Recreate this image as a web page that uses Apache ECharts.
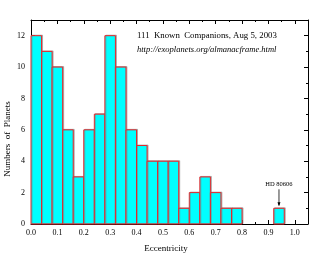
<!DOCTYPE html>
<html>
<head>
<meta charset="utf-8">
<script src="https://cdn.jsdelivr.net/npm/echarts@6/dist/echarts.min.js"></script>
<style>html,body{margin:0;padding:0;background:#fff;}#c{width:327px;height:254px;}</style>
</head>
<body>
<div id="c"></div>
<script>
// Histogram bins (eccentricity start of each 0.04-wide bin) and counts
const binStarts = [0.00,0.04,0.08,0.12,0.16,0.20,0.24,0.28,0.32,0.36,0.40,0.44,0.48,0.52,0.56,0.60,0.64,0.68,0.72,0.76,0.92];
const counts    = [12,11,10,6,3,6,7,12,10,6,5,4,4,4,1,2,3,2,1,1,1];
const binWidth = 0.04;
const titleText = '111  Known  Companions, Aug 5, 2003';
const urlText = 'http://exoplanets.org/almanacframe.html';
const annotText = 'HD 80606';
const annotX = 0.94, annotY = 1;

const FONT = 'Liberation Serif';
const chart = echarts.init(document.getElementById('c'), null, {renderer:'canvas'});
const data = binStarts.map((s,i)=>[s, s+binWidth, counts[i]]);
const axisCommon = {
  axisLine:{show:true,onZero:false,lineStyle:{color:'#000',width:1}},
  axisTick:{show:true,inside:true,length:4,lineStyle:{color:'#000'}},
  minorTick:{show:true,splitNumber:2,length:2,lineStyle:{color:'#000'}},
  splitLine:{show:false}
};
chart.setOption({
  animation:false,
  grid:{left:31,right:19,top:20,bottom:30},
  xAxis:[
    Object.assign({type:'value',min:0,max:1.05,interval:0.1,position:'bottom',
      axisLabel:{fontFamily:FONT,fontSize:8,color:'#000',margin:5,
        formatter:v=>{const r=Math.round(v*10)/10; return Math.abs(r-v)<1e-6 && v<=1.0001 ? r.toFixed(1):'';}}
    },axisCommon),
    Object.assign({type:'value',min:0,max:1.05,interval:0.1,position:'top',axisLabel:{show:false}},axisCommon)
  ],
  yAxis:[
    Object.assign({type:'value',min:0,max:13,interval:2,position:'left',
      axisLabel:{fontFamily:FONT,fontSize:8,color:'#000',margin:6,formatter:v=>v<=12?String(v):''}
    },axisCommon),
    Object.assign({type:'value',min:0,max:13,interval:2,position:'right',axisLabel:{show:false}},axisCommon)
  ],
  series:[{
    type:'custom',
    xAxisIndex:0,yAxisIndex:0,
    data:data,
    encode:{x:[0,1],y:2},
    renderItem:function(params,api){
      const p0 = api.coord([api.value(0), api.value(2)]);
      const p1 = api.coord([api.value(1), 0]);
      return {type:'rect',
        shape:{x:p0[0],y:p0[1],width:p1[0]-p0[0],height:p1[1]-p0[1]},
        style:{fill:'#00ffff',stroke:'#e8262a',lineWidth:1,
          shadowColor:'rgba(120,120,120,0.5)',shadowOffsetX:1,shadowOffsetY:-0.5,shadowBlur:0}};
    },
    z:1
  }]
});
// annotation positioned via the axes
const pa = chart.convertToPixel({xAxisIndex:0,yAxisIndex:0},[annotX, annotY]);
chart.setOption({graphic:[
  {type:'text',left:137,top:31,style:{text:titleText,font:'8.8px "Liberation Serif"',fill:'#000'}},
  {type:'text',left:137,top:45,style:{text:urlText,font:'italic 8.5px "Liberation Serif"',fill:'#000'}},
  {type:'text',x:166,y:249,style:{text:'Eccentricity',font:'9px "Liberation Serif"',fill:'#000',align:'center',verticalAlign:'middle'}},
  {type:'text',x:8,y:139,rotation:Math.PI/2,style:{text:'Numbers  of  Planets',font:'9px "Liberation Serif"',fill:'#000',align:'center',verticalAlign:'middle'}},
  {type:'text',x:pa[0],y:pa[1]-24,style:{text:annotText,font:'6.5px "Liberation Serif"',fill:'#000',align:'center',verticalAlign:'middle'}},
  {type:'line',shape:{x1:pa[0],y1:pa[1]-19,x2:pa[0],y2:pa[1]-3},style:{stroke:'#000',lineWidth:0.8}},
  {type:'polygon',shape:{points:[[pa[0]-1.5,pa[1]-6],[pa[0]+1.5,pa[1]-6],[pa[0],pa[1]-2]]},style:{fill:'#000'}}
]});
</script>
</body>
</html>
